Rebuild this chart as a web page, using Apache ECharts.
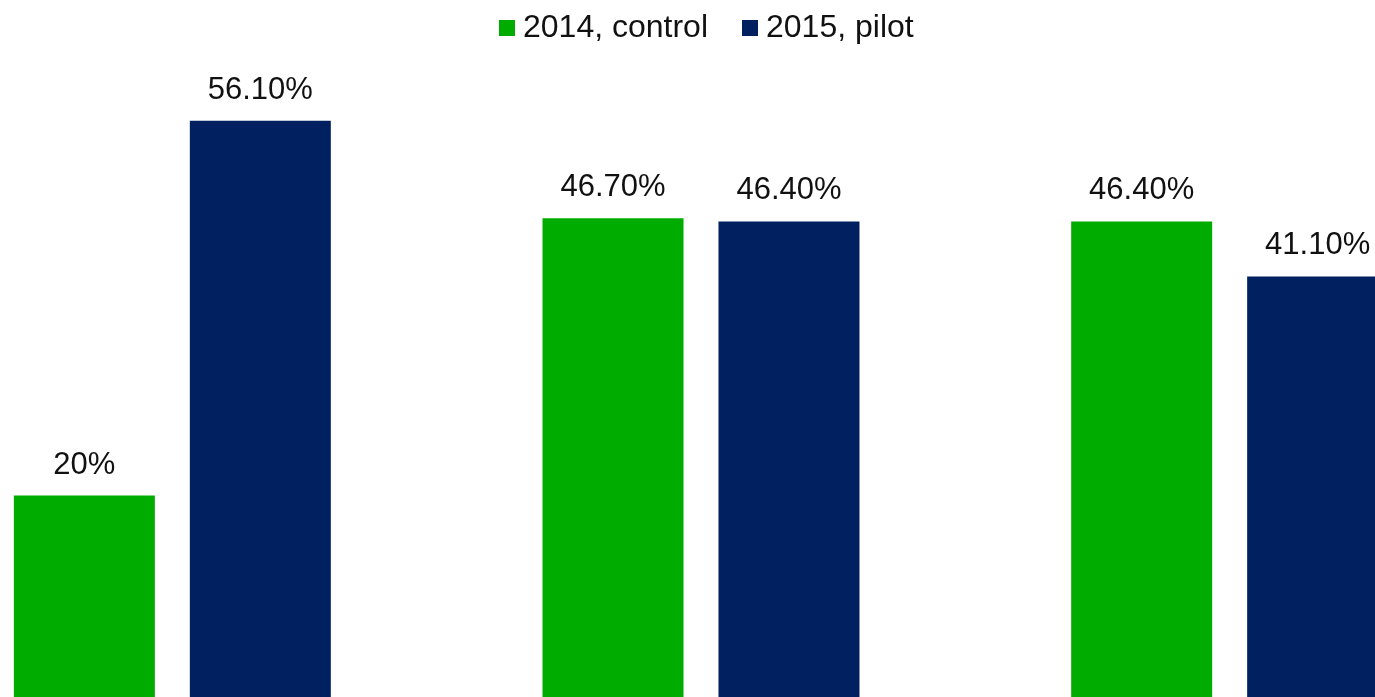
<!DOCTYPE html>
<html>
<head>
<meta charset="utf-8">
<script src="https://cdn.jsdelivr.net/npm/echarts@6/dist/echarts.min.js"></script>
<style>
  html, body { margin: 0; padding: 0; background: #ffffff; overflow: hidden; }
  body { width: 1375px; height: 697px; position: relative; }
  /* the plot is larger than the page; its outer edges and baseline fall outside the view */
  #chart { position: absolute; left: -92px; top: 0; width: 1586px; height: 710px; }
</style>
</head>
<body>
<div id="chart"></div>
<script>
// Three measures, comparing the 2014 control year with the 2015 pilot year
const categories = ['Measure 1', 'Measure 2', 'Measure 3'];
const control2014 = [20, 46.7, 46.4];
const pilot2015 = [56.1, 46.4, 41.1];
const seriesNames = ['2014, control', '2015, pilot'];

const FONT = '"Liberation Sans", Arial, Helvetica, sans-serif';
const GREEN = '#00AC00';
const NAVY = '#002060';

function pct(p) {
  const v = p.value;
  return (Number.isInteger(v) ? String(v) : v.toFixed(2)) + '%';
}

const labelStyle = {
  show: true,
  position: 'top',
  distance: 15,
  formatter: pct,
  fontFamily: FONT,
  fontSize: 31,
  color: '#111111'
};

const chart = echarts.init(document.getElementById('chart'), null, { renderer: 'canvas' });
chart.setOption({
  animation: false,
  backgroundColor: '#ffffff',
  legend: {
    data: seriesNames,
    left: 591,
    top: 12,
    padding: 0,
    icon: 'rect',
    itemWidth: 16,
    itemHeight: 16,
    itemGap: 34,
    textStyle: { fontFamily: FONT, fontSize: 32, color: '#111111', padding: [0, 0, 8, 3] }
  },
  grid: { left: 0, right: 0, top: 80.2, bottom: 6.9, containLabel: false },
  xAxis: {
    type: 'category',
    data: categories,
    show: false,
    boundaryGap: true
  },
  yAxis: {
    type: 'value',
    min: 0,
    max: 60,
    show: false,
    splitLine: { show: false }
  },
  series: [
    {
      name: seriesNames[0],
      type: 'bar',
      data: control2014,
      barWidth: 141,
      barGap: '24.8%',
      itemStyle: { color: GREEN },
      label: labelStyle
    },
    {
      name: seriesNames[1],
      type: 'bar',
      data: pilot2015,
      barWidth: 141,
      barGap: '24.8%',
      itemStyle: { color: NAVY },
      label: labelStyle
    }
  ]
});
</script>
</body>
</html>
